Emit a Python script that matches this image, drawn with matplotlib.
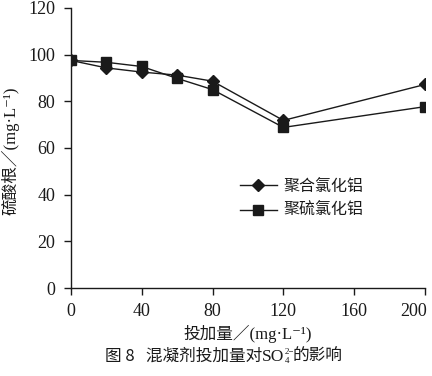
import matplotlib
matplotlib.use("Agg")
import matplotlib.pyplot as plt
from matplotlib.transforms import ScaledTranslation

# dosage (mg/L) and residual sulfate (mg/L)
dose = [0, 20, 40, 60, 80, 120, 200]
pac = [97.5, 94.3, 92.5, 91.2, 88.6, 71.8, 87.2]
psac = [97.5, 96.7, 94.9, 89.8, 85.0, 68.8, 77.7]
labels = ["聚合氯化铝", "聚硫氯化铝"]
xticks = [0, 40, 80, 120, 160, 200]
yticks = [0, 20, 40, 60, 80, 100, 120]

cjk = ["Noto Sans CJK SC", "DejaVu Sans"]
mixed = ["Liberation Serif", "Noto Sans CJK SC", "DejaVu Sans"]
serif = "Liberation Serif"
ink = "#1a1a1a"

fig = plt.figure(figsize=(4.32, 3.76), dpi=100)
ax = fig.add_axes([0.164, 0.234, 0.82, 0.745])

ax.plot(dose, pac, color=ink, lw=1.0, marker="D", ms=6, label=labels[0])
ax.plot(dose, psac, color=ink, lw=1.0, marker="s", ms=6.5, label=labels[1])

ax.set_xlim(0, 200)
ax.set_ylim(0, 120)
ax.set_xticks(xticks)
ax.set_yticks(yticks)
for s in ["top", "right"]:
    ax.spines[s].set_visible(False)
for s in ["left", "bottom"]:
    ax.spines[s].set_linewidth(1.0)
    ax.spines[s].set_color(ink)
ax.tick_params(direction="out", length=5, width=1.0, color=ink,
               labelsize=13, pad=6)
for t in ax.get_xticklabels() + ax.get_yticklabels():
    t.set_fontfamily(serif)
    t.set_color(ink)
# last x label sits a little left of its tick, as in the print
last = ax.get_xticklabels()[-1]
last.set_transform(last.get_transform() + ScaledTranslation(-8 / 72, 0, fig.dpi_scale_trans))

ax.set_xlabel("投加量／(mg·L⁻¹)", family=mixed, fontsize=12, labelpad=3, color=ink)
ax.set_ylabel("硫酸根／(mg·L⁻¹)", family=mixed, fontsize=12, color=ink)
ax.yaxis.set_label_coords(-0.145, 0.49)

leg = ax.legend(loc="center left", bbox_to_anchor=(0.437, 0.319), frameon=False,
                prop={"family": cjk, "size": 11.5}, handlelength=2.3,
                handletextpad=0.4, labelspacing=0.45)
for t in leg.get_texts():
    t.set_color(ink)

# caption with stacked SO4 2- charge
t1 = fig.text(0.243, 0.03, "图 8   混凝剂投加量对", family=cjk, fontsize=12,
              color=ink, va="bottom")
t2 = ax.annotate("SO", xy=(1, 0), xycoords=t1, va="bottom", ha="left",
                 family=serif, fontsize=12.5, color=ink)
ax.annotate("4", xy=(1, 0), xycoords=t2, va="bottom", ha="left",
            family=serif, fontsize=6.5, color=ink)
ax.annotate("2−", xy=(1, 0.55), xycoords=t2, va="bottom", ha="left",
            family=serif, fontsize=6.5, color=ink)
ax.annotate("的影响", xy=(1, 0), xycoords=t2, xytext=(6, 0),
            textcoords="offset points", va="bottom", ha="left",
            family=cjk, fontsize=12, color=ink)

fig.savefig("out.png", dpi=100)
